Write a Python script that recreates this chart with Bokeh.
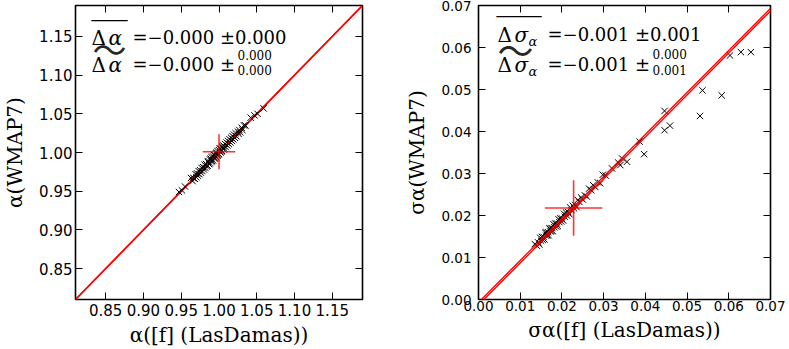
from bokeh.plotting import figure
from bokeh.models import (LinearAxis, FixedTicker, PrintfTickFormatter, Label,
                          Slope, Range1d, CustomLabelingPolicy)
from bokeh.layouts import row
from bokeh.embed import file_html
from bokeh.resources import INLINE

# ---------------- data ----------------
alpha_lasdamas = [0.947, 0.951, 0.955, 0.963, 0.965, 0.966, 0.968, 0.969, 0.970, 0.971,
                  0.972, 0.973, 0.974, 0.975, 0.976, 0.977, 0.978, 0.979, 0.980, 0.981,
                  0.982, 0.983, 0.984, 0.985, 0.985, 0.986, 0.987, 0.988, 0.988, 0.989,
                  0.990, 0.990, 0.991, 0.992, 0.992, 0.993, 0.994, 0.994, 0.995, 0.996,
                  0.996, 0.997, 0.998, 0.998, 0.999, 1.000, 1.000, 1.001, 1.002, 1.002,
                  1.003, 1.004, 1.004, 1.005, 1.006, 1.006, 1.007, 1.008, 1.009, 1.010,
                  1.011, 1.012, 1.013, 1.014, 1.015, 1.016, 1.017, 1.018, 1.019, 1.020,
                  1.021, 1.022, 1.023, 1.025, 1.026, 1.027, 1.028, 1.030, 1.031, 1.033,
                  1.035, 1.042, 1.047, 1.051, 1.059]
alpha_wmap7 = [0.949, 0.951, 0.956, 0.967, 0.963, 0.967, 0.966, 0.972, 0.968, 0.973,
               0.970, 0.976, 0.972, 0.977, 0.974, 0.980, 0.976, 0.981, 0.978, 0.984,
               0.980, 0.985, 0.982, 0.988, 0.983, 0.989, 0.985, 0.991, 0.986, 0.992,
               0.988, 0.994, 0.989, 0.995, 0.990, 0.997, 0.992, 0.997, 0.993, 0.999,
               0.994, 1.000, 0.996, 1.002, 0.997, 1.003, 0.998, 1.005, 1.000, 1.005,
               1.001, 1.007, 1.002, 1.008, 1.004, 1.009, 1.005, 1.011, 1.007, 1.013,
               1.009, 1.015, 1.011, 1.017, 1.013, 1.019, 1.015, 1.021, 1.017, 1.023,
               1.019, 1.025, 1.021, 1.027, 1.024, 1.029, 1.026, 1.032, 1.029, 1.035,
               1.035, 1.045, 1.048, 1.050, 1.057]

sigma_lasdamas = [0.0135, 0.0140, 0.0143, 0.0146, 0.0148, 0.0150, 0.0152, 0.0154, 0.0156, 0.0158,
                  0.0160, 0.0162, 0.0163, 0.0165, 0.0167, 0.0168, 0.0170, 0.0172, 0.0173, 0.0175,
                  0.0177, 0.0178, 0.0180, 0.0182, 0.0184, 0.0186, 0.0188, 0.0190, 0.0192, 0.0194,
                  0.0196, 0.0198, 0.0200, 0.0203, 0.0205, 0.0207, 0.0210, 0.0212, 0.0215, 0.0218,
                  0.0220, 0.0223, 0.0226, 0.0229, 0.0232, 0.0235, 0.0238, 0.0242, 0.0246, 0.0250,
                  0.0255, 0.0260, 0.0265, 0.0270, 0.0275, 0.0280, 0.0286, 0.0292, 0.0298, 0.0305,
                  0.0320, 0.0335, 0.0340, 0.0344, 0.0356, 0.0386, 0.0397, 0.0446, 0.0446, 0.0459,
                  0.0531, 0.0537, 0.0583, 0.0603, 0.0629, 0.0653]
sigma_wmap7 = [0.0132, 0.0128, 0.0136, 0.0131, 0.0147, 0.0140, 0.0149, 0.0142, 0.0149, 0.0143,
               0.0159, 0.0152, 0.0160, 0.0153, 0.0160, 0.0153, 0.0169, 0.0162, 0.0170, 0.0163,
               0.0170, 0.0163, 0.0179, 0.0172, 0.0181, 0.0174, 0.0181, 0.0175, 0.0191, 0.0184,
               0.0193, 0.0186, 0.0193, 0.0188, 0.0204, 0.0197, 0.0207, 0.0200, 0.0208, 0.0203,
               0.0219, 0.0213, 0.0223, 0.0217, 0.0225, 0.0220, 0.0237, 0.0232, 0.0243, 0.0238,
               0.0248, 0.0245, 0.0264, 0.0260, 0.0272, 0.0268, 0.0279, 0.0277, 0.0297, 0.0295,
               0.0312, 0.0326, 0.0320, 0.0336, 0.0328, 0.0376, 0.0346, 0.0449, 0.0403, 0.0414,
               0.0437, 0.0498, 0.0486, 0.0581, 0.0589, 0.0589]

alpha_ticks = [0.85, 0.90, 0.95, 1.00, 1.05, 1.10, 1.15]
sigma_ticks = [0.00, 0.01, 0.02, 0.03, 0.04, 0.05, 0.06, 0.07]
alpha_range = [0.81, 1.19]
sigma_range = [0.0, 0.07]

# mean point and scatter (x, y)
alpha_center = [1.000, 1.001]
alpha_spread = [0.0215, 0.0225]
sigma_center = [0.0228, 0.0218]
sigma_spread = [0.0069, 0.0066]

# offsets of the mean / median difference lines
alpha_offsets = [0.0, 0.0]
sigma_offsets = [-0.0013, -0.0007]

alpha_xlabel = "\u03b1([f] (LasDamas))"
alpha_ylabel = "\u03b1(WMAP7)"
sigma_xlabel = "\u03c3\u03b1([f] (LasDamas))"
sigma_ylabel = "\u03c3\u03b1(WMAP7)"

SERIF = "DejaVu Serif"
HIDE_ALL = CustomLabelingPolicy(code="""
for (const i of indices) { indices.unset(i) }
return indices
""")


def lab(p, text, x, y, size, font=SERIF, style="normal", align="left",
        baseline="alphabetic", alpha=1.0):
    p.add_layout(Label(x=x, y=y, x_units="screen", y_units="screen", text=text,
                       text_font=font, text_font_size=f"{size}px",
                       text_font_style=style, text_align=align,
                       text_baseline=baseline, text_color="black",
                       text_alpha=alpha))


def make_fig(rng, ticks, tick_size, width, bl, br, x_so, y_so, xlabel, ylabel,
             xl_so, yl_so):
    p = figure(width=width, height=349, x_range=Range1d(*rng), y_range=Range1d(*rng),
               output_backend="svg", toolbar_location=None,
               x_axis_type=None, y_axis_type=None,
               min_border_left=bl, min_border_right=br, min_border_top=5,
               min_border_bottom=49)
    p.grid.visible = False
    p.outline_line_color = "black"
    p.outline_line_width = 1.6
    p.background_fill_color = "white"
    p.border_fill_color = "white"
    for side in ["below", "left", "above", "right"]:
        ax = LinearAxis(ticker=FixedTicker(ticks=ticks),
                        formatter=PrintfTickFormatter(format="%.2f"),
                        axis_line_color=None, major_tick_in=7, major_tick_out=0,
                        major_tick_line_color="black", major_tick_line_width=1,
                        minor_tick_line_color=None,
                        major_label_text_font="DejaVu Sans",
                        major_label_text_font_size=f"{tick_size}px",
                        major_label_text_color="black",
                        axis_label_text_font=SERIF,
                        axis_label_text_font_style="normal",
                        axis_label_text_font_size="20px",
                        axis_label_text_color="black")
        if side == "below":
            ax.major_label_standoff = x_so
            ax.axis_label = xlabel
            ax.axis_label_standoff = xl_so
        elif side == "left":
            ax.major_label_standoff = y_so
            ax.axis_label = ylabel
            ax.axis_label_standoff = yl_so
        else:
            ax.major_label_text_font_size = "0px"
            ax.major_label_standoff = 0
            ax.major_label_policy = HIDE_ALL
        p.add_layout(ax, side)
    return p


# ---------------- left panel ----------------
p1 = make_fig(alpha_range, alpha_ticks, 15, 388, 70, 26, 4, 3,
              alpha_xlabel, alpha_ylabel, 4, 9)
for off in alpha_offsets:
    p1.add_layout(Slope(gradient=1, y_intercept=off, line_color="red",
                        line_width=1.5, level="underlay"))
p1.scatter(alpha_lasdamas, alpha_wmap7, marker="x", size=9, line_color="black",
           line_width=1)
p1.segment(x0=[alpha_center[0] - alpha_spread[0], alpha_center[0]],
           y0=[alpha_center[1], alpha_center[1] - alpha_spread[1]],
           x1=[alpha_center[0] + alpha_spread[0], alpha_center[0]],
           y1=[alpha_center[1], alpha_center[1] + alpha_spread[1]],
           line_color="red", line_width=1.6, line_alpha=0.8)

# annotation (screen positions relative to the frame, y from frame bottom)
lab(p1, "\u0394", 16, 262, 20)
lab(p1, "\u03b1", 33, 262, 20, style="italic")
lab(p1, "\u203e\u203e\u203e\u203e", 16, 273, 18, font="DejaVu Sans")
lab(p1, "=\u22120.000 \u00b10.000", 57, 262, 18)
lab(p1, "\u0394", 16, 235, 20)
lab(p1, "\u03b1", 33, 235, 20, style="italic")
lab(p1, "\u301c", 17, 251, 34, font="Noto Sans CJK JP", baseline="middle",
    alpha=0.85)
lab(p1, "=\u22120.000 \u00b1", 57, 235, 18)
lab(p1, "0.000", 162, 245, 12)
lab(p1, "0.000", 162, 230, 12)

# ---------------- right panel ----------------
p2 = make_fig(sigma_range, sigma_ticks, 13.5, 401, 90, 19, 1, 7,
              sigma_xlabel, sigma_ylabel, 4, 9)
p2.scatter(sigma_lasdamas, sigma_wmap7, marker="x", size=9, line_color="black",
           line_width=1)
for off in sigma_offsets:
    p2.add_layout(Slope(gradient=1, y_intercept=off, line_color="red",
                        line_width=1.3))
p2.segment(x0=[sigma_center[0] - sigma_spread[0], sigma_center[0]],
           y0=[sigma_center[1], sigma_center[1] - sigma_spread[1]],
           x1=[sigma_center[0] + sigma_spread[0], sigma_center[0]],
           y1=[sigma_center[1], sigma_center[1] + sigma_spread[1]],
           line_color="red", line_width=1.6, line_alpha=0.8)

lab(p2, "\u0394", 19, 265, 20)
lab(p2, "\u03c3", 36, 265, 20, style="italic")
lab(p2, "\u03b1", 50, 258, 13, style="italic")
lab(p2, "\u203e\u203e\u203e\u203e\u203e", 18, 277, 18, font="DejaVu Sans")
lab(p2, "=\u22120.001 \u00b10.001", 69, 265, 18)
lab(p2, "\u0394", 19, 235, 20)
lab(p2, "\u03c3", 36, 235, 20, style="italic")
lab(p2, "\u03b1", 50, 228, 13, style="italic")
lab(p2, "\u301c", 19, 251, 36, font="Noto Sans CJK JP", baseline="middle",
    alpha=0.85)
lab(p2, "=\u22120.001 \u00b1", 69, 235, 18)
lab(p2, "0.000", 174, 246, 12)
lab(p2, "0.001", 174, 230, 12)

layout = row(p1, p2)
open("out.html", "w").write(file_html(layout, INLINE))
